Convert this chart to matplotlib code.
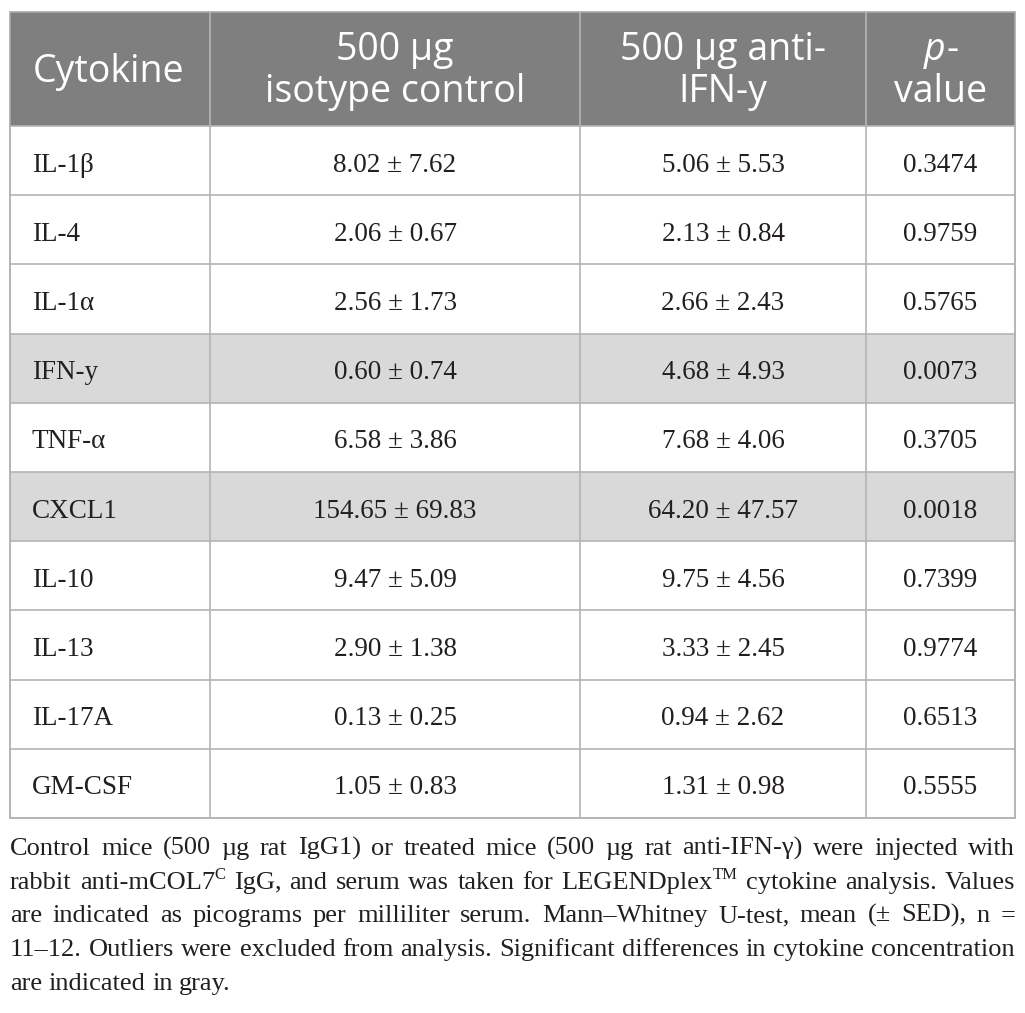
import matplotlib
matplotlib.use("Agg")
import matplotlib.pyplot as plt
from matplotlib.patches import Rectangle

# table values
cytokines = ["IL-1β", "IL-4", "IL-1α", "IFN-y", "TNF-α", "CXCL1", "IL-10", "IL-13", "IL-17A", "GM-CSF"]
isotype_mean = [8.02, 2.06, 2.56, 0.60, 6.58, 154.65, 9.47, 2.90, 0.13, 1.05]
isotype_sed = [7.62, 0.67, 1.73, 0.74, 3.86, 69.83, 5.09, 1.38, 0.25, 0.83]
anti_mean = [5.06, 2.13, 2.66, 4.68, 7.68, 64.20, 9.75, 3.33, 0.94, 1.31]
anti_sed = [5.53, 0.84, 2.43, 4.93, 4.06, 47.57, 4.56, 2.45, 2.62, 0.98]
p_values = [0.3474, 0.9759, 0.5765, 0.0073, 0.3705, 0.0018, 0.7399, 0.9774, 0.6513, 0.5555]

header_lines = [["Cytokine"], ["500 µg", "isotype control"], ["500 µg anti-", "IFN-y"], ["p-", "value"]]

caption_lines = [
    "Control mice (500 µg rat IgG1) or treated mice (500 µg rat anti-IFN-γ) were injected with",
    "rabbit anti-mCOL7^C IgG, and serum was taken for LEGENDplex^TM cytokine analysis. Values",
    "are indicated as picograms per milliliter serum. Mann–Whitney U-test, mean (± SED), n =",
    "11–12. Outliers were excluded from analysis. Significant differences in cytokine concentration",
    "are indicated in gray.",
]

W, H = 1025, 1013
fig = plt.figure(figsize=(W / 100, H / 100), dpi=100)
ax = fig.add_axes([0, 0, 1, 1])
ax.set_xlim(0, W)
ax.set_ylim(H, 0)
ax.axis("off")
renderer = fig.canvas.get_renderer()

col_x = [10, 210, 580, 866, 1015]
top, head_bot, row_h = 12, 126, 69.2
n = len(cytokines)
tab_bot = head_bot + n * row_h

head_font = ["Open Sans", "DejaVu Sans"]
body_font = ["Liberation Serif", "DejaVu Serif"]
txt_col = "#231f20"
grid_col = "#b4b4b4"
head_size = 27
body_size = 19.5

# header
ax.add_patch(Rectangle((col_x[0], top), col_x[-1] - col_x[0], head_bot - top, color="#7f7f7f", lw=0))
head_base = {1: [82], 2: [60, 102]}
for j, lines in enumerate(header_lines):
    cx = (col_x[j] + col_x[j + 1]) / 2
    for k, line in enumerate(lines):
        yb = head_base[len(lines)][k]
        if j == 0:
            ax.text(33, yb, line, fontsize=head_size, family=head_font, color="white", va="baseline", ha="left")
        elif line == "p-":
            t1 = ax.text(0, 0, "p", fontsize=head_size, family=head_font, style="italic")
            t2 = ax.text(0, 0, "-", fontsize=head_size, family=head_font)
            w1 = t1.get_window_extent(renderer).width
            w2 = t2.get_window_extent(renderer).width
            t1.remove(); t2.remove()
            x0 = cx - (w1 + w2) / 2
            ax.text(x0, yb, "p", fontsize=head_size, family=head_font, style="italic", color="white", va="baseline")
            ax.text(x0 + w1 + 1, yb, "-", fontsize=head_size, family=head_font, color="white", va="baseline")
        else:
            ax.text(cx, yb, line, fontsize=head_size, family=head_font, color="white", va="baseline", ha="center")

# body rows
for i in range(n):
    y0 = head_bot + i * row_h
    if p_values[i] < 0.05:
        ax.add_patch(Rectangle((col_x[0], y0), col_x[-1] - col_x[0], row_h, color="#d9d9d9", lw=0))
    yb = y0 + row_h / 2 + 11
    cells = [cytokines[i],
             f"{isotype_mean[i]:.2f} ± {isotype_sed[i]:.2f}",
             f"{anti_mean[i]:.2f} ± {anti_sed[i]:.2f}",
             f"{p_values[i]:.4f}"]
    for j, s in enumerate(cells):
        if j == 0:
            ax.text(32, yb, s, fontsize=body_size, family=body_font, color=txt_col, va="baseline", ha="left")
        else:
            cx = (col_x[j] + col_x[j + 1]) / 2
            ax.text(cx, yb, s, fontsize=body_size, family=body_font, color=txt_col, va="baseline", ha="center")

# grid lines
for i in range(1, n):
    y = head_bot + i * row_h
    ax.plot([col_x[0], col_x[-1]], [y, y], color=grid_col, lw=1.2)
for x in col_x[1:-1]:
    ax.plot([x, x], [top, tab_bot], color=grid_col, lw=1.2)
ax.add_patch(Rectangle((col_x[0], top), col_x[-1] - col_x[0], tab_bot - top, fill=False, ec="#a8a8a8", lw=1.2))
ax.plot([col_x[0], col_x[-1]], [head_bot, head_bot], color=grid_col, lw=1.2)


# justified caption
def seg_width(s, size):
    t = ax.text(0, 0, s, fontsize=size, family=body_font)
    w = t.get_window_extent(renderer).width
    t.remove()
    return w


def word_parts(word):
    parts = word.split("^")
    out = [(parts[0], False)]
    for p in parts[1:]:
        out.append((p, True))
    return out


cap_size = 19
sup_size = 12
cap_left, cap_right = 10, 1015
base_y = [855, 889, 922, 956, 990]
for li, line in enumerate(caption_lines):
    words = [word_parts(w) for w in line.split(" ")]
    widths = []
    for parts in words:
        widths.append(sum(seg_width(s, sup_size if sup else cap_size) for s, sup in parts))
    last = li == len(caption_lines) - 1
    if last:
        gap = seg_width("a a", cap_size) - 2 * seg_width("a", cap_size)
    else:
        gap = (cap_right - cap_left - sum(widths)) / (len(words) - 1)
    x = cap_left
    for parts, w in zip(words, widths):
        xx = x
        for s, sup in parts:
            size = sup_size if sup else cap_size
            yy = base_y[li] - (10 if sup else 0)
            ax.text(xx, yy, s, fontsize=size, family=body_font, color=txt_col, va="baseline")
            xx += seg_width(s, size)
        x += w + gap

fig.savefig("out.png", dpi=100)
